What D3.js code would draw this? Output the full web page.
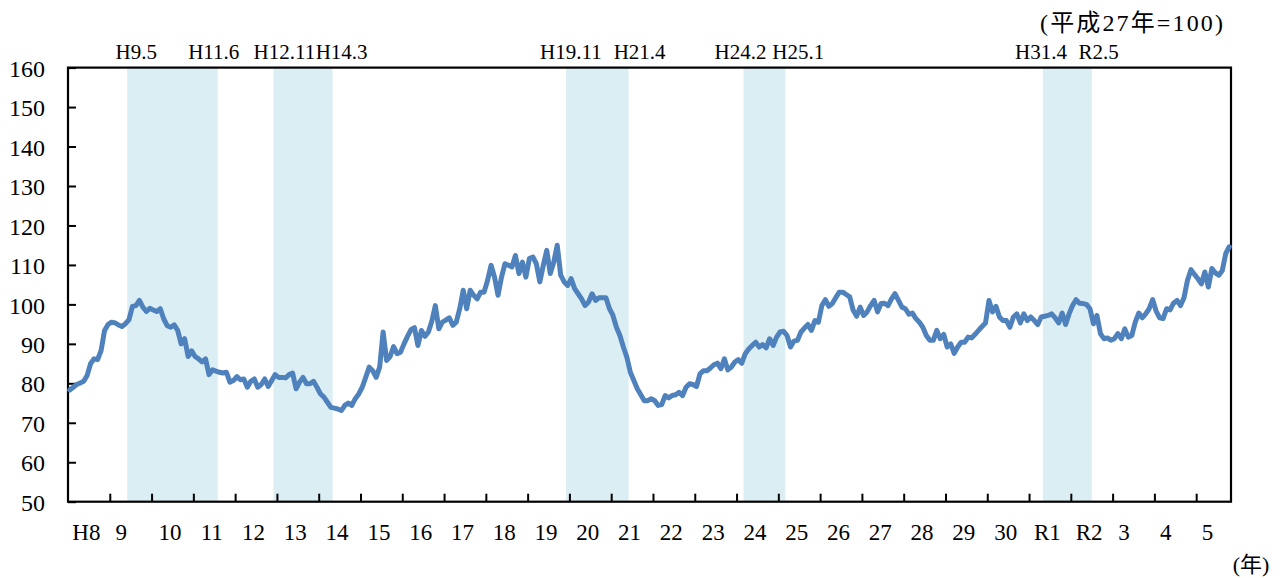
<!DOCTYPE html>
<html>
<head>
<meta charset="utf-8">
<script src="https://cdn.jsdelivr.net/npm/d3@7"></script>
<style>
  body { margin: 0; background: #fff; }
  text { font-family: "Liberation Serif", "Noto Sans CJK JP", serif; fill: #000; }
</style>
</head>
<body>
<div class="chart"></div>
<script>
// monthly index, H8.1 (Jan 1996) .. R5.10 (Oct 2023)
const startYear = 1996;
const values = [
  78.3, 79.0, 79.7, 80.1, 80.5, 82.0, 85.0, 86.2, 86.0, 88.3,
  93.4, 94.9, 95.5, 95.3, 94.8, 94.4, 95.1, 96.1, 99.5, 99.7,
  101.0, 99.3, 98.2, 99.0, 98.6, 98.2, 98.9, 96.3, 94.6, 94.2,
  94.8, 93.4, 90.0, 91.3, 86.8, 88.2, 86.8, 86.2, 85.4, 86.2,
  82.2, 83.4, 83.1, 82.8, 82.6, 82.8, 80.3, 80.7, 81.7, 80.9,
  81.1, 79.0, 80.5, 81.1, 79.0, 79.7, 81.1, 79.2, 80.7, 82.2,
  81.5, 81.5, 81.4, 82.2, 82.6, 78.6, 80.3, 81.5, 79.9, 79.9,
  80.5, 79.0, 77.3, 76.5, 75.2, 73.9, 73.7, 73.5, 73.1, 74.4,
  75.0, 74.4, 76.1, 77.3, 79.0, 81.5, 84.1, 83.2, 81.5, 84.1,
  93.0, 85.8, 86.8, 89.3, 87.5, 87.9, 90.0, 91.9, 93.6, 94.1,
  89.6, 93.4, 91.9, 93.0, 95.8, 99.7, 93.8, 95.5, 96.0, 96.6,
  94.7, 95.5, 98.9, 103.6, 98.9, 103.6, 102.3, 101.4, 103.1, 103.1,
  106.1, 109.9, 106.9, 102.3, 106.9, 110.3, 109.9, 109.5, 112.4, 107.8,
  110.7, 106.9, 111.6, 112.0, 110.3, 105.7, 109.9, 113.7, 107.8, 110.7,
  115.0, 107.4, 105.7, 104.8, 106.5, 104.0, 102.7, 101.4, 99.7, 100.6,
  102.7, 101.0, 101.7, 101.7, 101.7, 98.9, 97.2, 94.2, 92.1, 89.2,
  86.6, 82.8, 80.7, 78.6, 77.1, 75.6, 75.6, 76.1, 75.6, 74.4,
  74.6, 76.9, 76.3, 76.9, 77.1, 77.7, 76.9, 79.0, 79.9, 79.7,
  79.2, 82.4, 83.2, 83.2, 83.9, 84.7, 85.1, 83.7, 86.2, 83.4,
  84.1, 85.4, 86.0, 85.1, 87.5, 88.7, 89.6, 90.4, 89.2, 89.8,
  89.0, 91.3, 89.6, 91.7, 93.0, 93.2, 92.1, 89.2, 90.7, 90.9,
  93.0, 94.0, 94.9, 93.4, 95.9, 95.5, 99.7, 101.2, 99.5, 100.2,
  101.7, 103.1, 103.1, 102.5, 101.9, 98.5, 97.0, 99.3, 97.2, 98.1,
  99.7, 101.0, 98.1, 100.2, 100.3, 99.7, 101.4, 102.7, 101.0, 99.3,
  98.9, 97.5, 97.8, 96.4, 95.5, 94.2, 92.1, 90.9, 90.9, 93.4,
  91.3, 92.4, 89.2, 90.0, 87.6, 89.2, 90.4, 90.4, 91.7, 91.5,
  92.4, 93.4, 94.4, 95.3, 101.0, 98.1, 99.5, 96.8, 95.9, 95.9,
  94.2, 96.8, 97.6, 95.3, 97.6, 95.9, 96.8, 95.9, 94.9, 96.8,
  97.0, 97.2, 97.6, 96.6, 95.3, 97.8, 94.9, 97.6, 99.7, 101.2,
  100.3, 100.2, 100.0, 98.9, 95.1, 97.2, 92.6, 91.3, 91.5, 90.9,
  91.3, 92.6, 91.3, 93.8, 91.7, 92.1, 95.5, 97.8, 96.6, 97.6,
  98.9, 101.2, 98.3, 96.6, 96.4, 98.9, 98.6, 100.3, 101.0, 99.7,
  101.7, 106.1, 108.8, 107.6, 106.5, 105.2, 108.2, 104.4, 109.1, 108.0,
  107.4, 108.6, 112.9, 114.6
];

const yearLabels = ["H8", "9", "10", "11", "12", "13", "14", "15", "16", "17",
  "18", "19", "20", "21", "22", "23", "24", "25", "26", "27",
  "28", "29", "30", "R1", "R2", "3", "4", "5"];

// recession periods: peak / trough as [year, month]
const peaks   = [[1997, 5], [2000, 11], [2007, 11], [2012, 2], [2019, 4]];
const troughs = [[1999, 6], [2002, 3],  [2009, 4],  [2013, 1], [2020, 5]];
const peakLabels   = ["H9.5", "H12.11", "H19.11", "H24.2", "H31.4"];
const troughLabels = ["H11.6", "H14.3", "H21.4", "H25.1", "R2.5"];

const yTicks = d3.range(50, 161, 10);

const W = 1285, H = 578;
const m = { left: 68, right: 1231, top: 67.6, bottom: 501.7 };

const svg = d3.select(".chart").append("svg")
  .attr("width", W).attr("height", H);

const idx = ym => (ym[0] - startYear) * 12 + ym[1] - 1;

const x = d3.scaleLinear().domain([0, values.length]).range([m.left, m.right]);
const y = d3.scaleLinear().domain([50, 160]).range([m.bottom, m.top]);

// shaded recessions (month after peak through month after trough)
svg.append("g").selectAll("rect")
  .data(peaks.map((p, i) => ({ s: idx(p) + 1, e: idx(troughs[i]) + 2 })))
  .join("rect")
  .attr("x", d => x(d.s))
  .attr("width", d => x(d.e) - x(d.s))
  .attr("y", m.top)
  .attr("height", m.bottom - m.top)
  .attr("fill", "#daeef3");

// y axis
const yAxis = svg.append("g")
  .attr("transform", `translate(${m.left},0)`)
  .call(d3.axisLeft(y).tickValues(yTicks).tickSize(-8).tickPadding(23));
yAxis.select(".domain").remove();
yAxis.selectAll(".tick line").attr("stroke", "#000").attr("stroke-width", 2);
yAxis.selectAll("text")
  .attr("font-family", "Liberation Serif")
  .attr("font-size", 24)
  .attr("dy", "0.36em");

// x axis ticks on year boundaries
const xAxis = svg.append("g")
  .attr("transform", `translate(0,${m.bottom})`)
  .call(d3.axisBottom(x).tickValues(d3.range(12, values.length, 12)).tickSize(-8).tickFormat(""));
xAxis.select(".domain").remove();
xAxis.selectAll(".tick line").attr("stroke", "#000").attr("stroke-width", 2);

svg.append("g").selectAll("text")
  .data(yearLabels)
  .join("text")
  .attr("x", (d, i) => x(i * 12 + 6) - (d.length === 1 ? 9.5 : 2.5))
  .attr("y", 540)
  .attr("text-anchor", "middle")
  .attr("font-size", 23)
  .text(d => d);

// frame
svg.append("rect")
  .attr("x", m.left).attr("y", m.top)
  .attr("width", m.right - m.left).attr("height", m.bottom - m.top)
  .attr("fill", "none").attr("stroke", "#000").attr("stroke-width", 2.2);

// line
const line = d3.line()
  .x((d, i) => x(i + 0.5))
  .y(d => y(d));

svg.append("path")
  .datum(values)
  .attr("fill", "none")
  .attr("stroke", "#4f81bd")
  .attr("stroke-width", 5)
  .attr("stroke-linejoin", "round")
  .attr("stroke-linecap", "round")
  .attr("d", line);

// band labels
const nudgePeak = [9, 11, 5, -3, -2];
const nudgeTrough = [-4, 9, 11, 13, 7];
const bandText = svg.append("g").attr("font-size", 21);
bandText.selectAll("text.pk")
  .data(peakLabels)
  .join("text")
  .attr("class", "pk")
  .attr("x", (d, i) => x(idx(peaks[i]) + 1) + nudgePeak[i])
  .attr("y", 59)
  .attr("text-anchor", "middle")
  .text(d => d);
bandText.selectAll("text.tr")
  .data(troughLabels)
  .join("text")
  .attr("class", "tr")
  .attr("x", (d, i) => x(idx(troughs[i]) + 2) + nudgeTrough[i])
  .attr("y", 59)
  .attr("text-anchor", "middle")
  .text(d => d);

// unit notes
svg.append("text")
  .attr("x", 1040).attr("y", 31)
  .attr("font-size", 24)
  .attr("textLength", 183)
  .attr("lengthAdjust", "spacing")
  .text("(平成27年=100)");

svg.append("text")
  .attr("x", 1251).attr("y", 572)
  .attr("text-anchor", "middle")
  .attr("font-size", 22)
  .text("(年)");
</script>
</body>
</html>
